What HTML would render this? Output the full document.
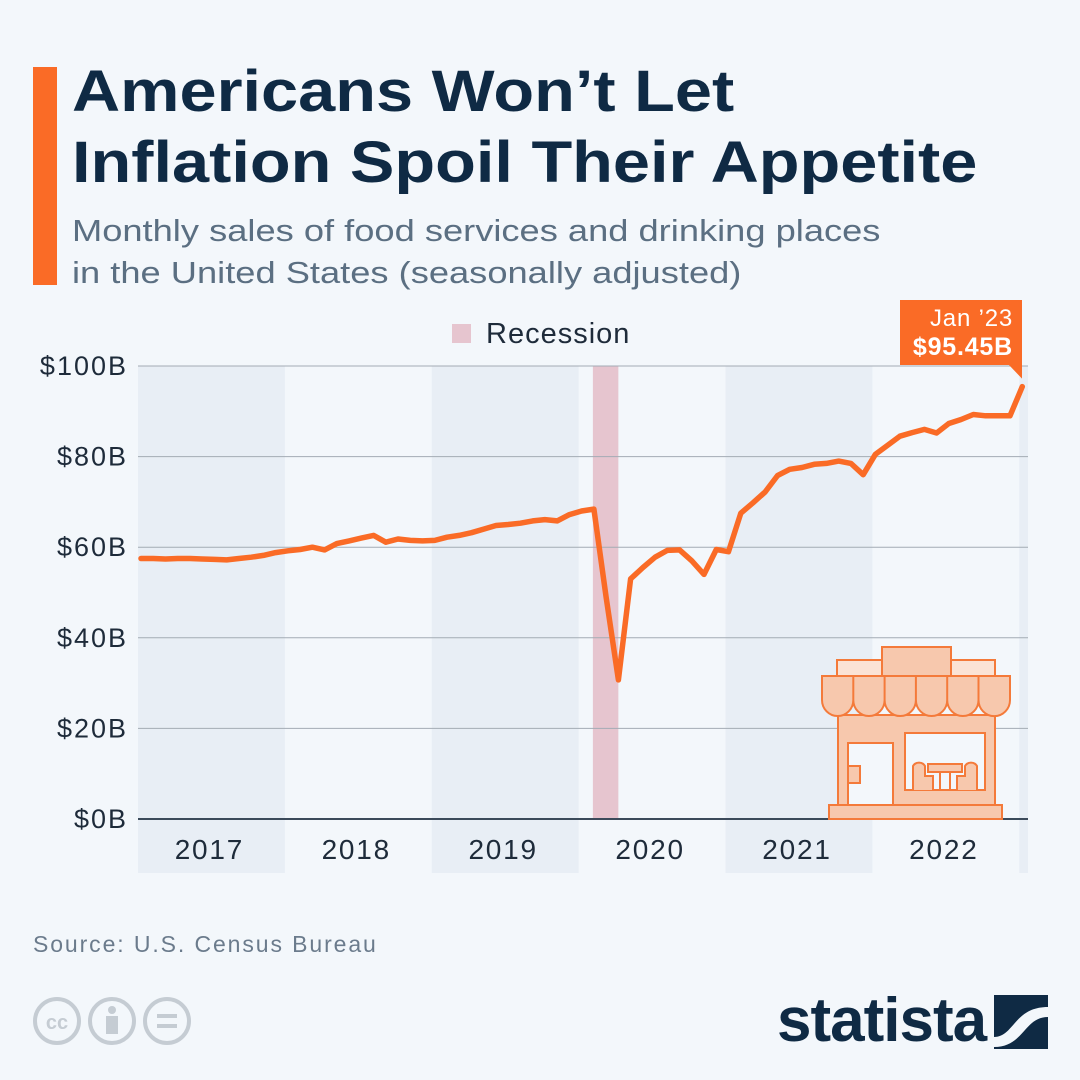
<!DOCTYPE html>
<html><head><meta charset="utf-8">
<style>
body{margin:0;background:#f3f7fb;}
#root{position:relative;width:1080px;height:1080px;background:#f3f7fb;font-family:"Liberation Sans","DejaVu Sans",sans-serif;overflow:hidden;}
.t{position:absolute;white-space:nowrap;}
</style></head><body>
<div id="root">
<div class="t" style="left:33px;top:67px;width:24px;height:218px;background:#fa6b26"></div>
<div class="t" style="left:72px;top:56px;font-size:58px;font-weight:bold;line-height:71px;color:#0f2a44;transform:scaleX(1.15);transform-origin:0 0">Americans Won’t Let<br>Inflation Spoil Their Appetite</div>
<div class="t" style="left:72px;top:210px;font-size:31px;line-height:42px;color:#5b6f82;transform:scaleX(1.17);transform-origin:0 0">Monthly sales of food services and drinking places<br>in the United States (seasonally adjusted)</div>
<svg id="chart" width="1080" height="1080" style="position:absolute;left:0;top:0"></svg>
<div class="t" style="left:33px;top:931px;font-size:23px;color:#6b7b8c;letter-spacing:1.9px">Source: U.S. Census Bureau</div>
<svg class="t" style="left:30px;top:995px" width="190" height="52">
<g fill="none" stroke="#c5ccd3" stroke-width="4"><circle cx="27" cy="26" r="22"/><circle cx="82" cy="26" r="22"/><circle cx="137" cy="26" r="22"/></g>
<text x="27" y="34" text-anchor="middle" font-size="20" font-weight="bold" fill="#c5ccd3" font-family="Liberation Sans">cc</text>
<circle cx="82" cy="15" r="4" fill="#c5ccd3"/><rect x="76" y="21" width="12" height="18" fill="#c5ccd3"/>
<rect x="127" y="19" width="20" height="4" fill="#c5ccd3"/><rect x="127" y="29" width="20" height="4" fill="#c5ccd3"/>
</svg>
<div class="t" style="left:777px;top:985px;font-size:62px;font-weight:bold;color:#0f2a44;letter-spacing:-1px">statista</div>
<svg class="t" style="left:994px;top:995px" width="54" height="54">
<rect width="54" height="54" fill="#0f2a44"/><path d="M0 42 C20 42 20 12 54 12 L54 22 C30 22 30 52 0 52Z" fill="#f3f7fb"/>
</svg>
</div>
<script>
const years=["2017","2018","2019","2020","2021","2022"];
const yTicks=[0,20,40,60,80,100];
const yTickLabels=["$0B","$20B","$40B","$60B","$80B","$100B"];
const sales=[57.5,57.5,57.4,57.5,57.5,57.4,57.3,57.2,57.5,57.8,58.2,58.8,
59.2,59.5,60.0,59.4,60.8,61.4,62.0,62.6,61.1,61.8,61.5,61.4,
61.5,62.2,62.6,63.2,64.0,64.8,65.0,65.3,65.8,66.1,65.8,67.2,
68.0,68.4,49.0,30.7,53.0,55.5,57.8,59.3,59.4,57.0,54.0,59.5,
59.0,67.5,69.8,72.2,75.8,77.2,77.6,78.3,78.5,79.0,78.5,76.0,
80.5,82.5,84.5,85.3,86.0,85.2,87.3,88.2,89.3,89.0,89.0,89.0,95.45];
const recession=[37,39];
const NS="http://www.w3.org/2000/svg";
const svg=document.getElementById('chart');
const x0=138,x1=1028,yTop=366,yBot=819,m0=141,mStep=12.24;
const xm=i=>m0+i*mStep;
const yv=v=>yBot-(v/100)*(yBot-yTop);
function el(t,a,p){const e=document.createElementNS(NS,t);for(const k in a)e.setAttribute(k,a[k]);(p||svg).appendChild(e);return e;}
for(let y=0;y<=years.length;y++){
  const xa=Math.max(x0,xm(y*12)-3),xb=Math.min(x1,xm(y*12+12)-3);
  if(y%2===0){const r=el('rect',{x:xa,y:yTop,width:xb-xa,height:873-yTop,fill:'#e8eef5'});
  
  }
  if(y<years.length){const t=el('text',{x:(xm(y*12)+xm(y*12+12))/2-5,y:859,'text-anchor':'middle','font-size':28,fill:'#1e2b3a','letter-spacing':1.8});t.textContent=years[y];
  
  }
}
const rb=el('rect',{x:xm(recession[0])-1,y:yTop,width:xm(recession[1])-xm(recession[0])+1,height:yBot-yTop,fill:'#e6c5cf'});


yTicks.forEach((v,i)=>{
  const g=el('line',{x1:x0,x2:x1,y1:yv(v),y2:yv(v),stroke:v===0?'#3b4a5a':'#a3abb4','stroke-width':v===0?2:1});
  
  
  const t=el('text',{x:128,y:yv(v)+9,'text-anchor':'end','font-size':27,fill:'#1e2b3a','letter-spacing':2});t.textContent=yTickLabels[i];
  
  
});
const ls=el('rect',{x:452,y:324,width:19,height:19,fill:'#e6c5cf'});


const lt=el('text',{x:486,y:343,'font-size':29,fill:'#1e2b3a','letter-spacing':1});lt.textContent='Recession';


const st=el('g',{fill:'#f7c8ad',stroke:'#f47a3a','stroke-width':2});


el('rect',{x:837,y:660,width:158,height:16,fill:'#fbe3d5'},st);
el('rect',{x:882,y:647,width:69,height:29},st);
el('rect',{x:838,y:715,width:157,height:92},st);
let aw='M822 676 L1010 676 L1010 700';for(let k=5;k>=0;k--){const a=822+k*31.3;aw+=` A15.6 16 0 0 1 ${a} 700`;}aw+='Z';
el('path',{d:aw},st);
for(let k=1;k<6;k++)el('line',{x1:822+k*31.3,y1:676,x2:822+k*31.3,y2:700},st);
el('rect',{x:848,y:743,width:45,height:63,fill:'#f3f7fb'},st);
el('rect',{x:848,y:766,width:12,height:17},st);
el('rect',{x:905,y:733,width:80,height:57,fill:'#f3f7fb'},st);
el('path',{d:'M913 790 V766 A7 7 0 0 1 925 766 V776 H933 V790 M977 790 V766 A7 7 0 0 0 965 766 V776 H957 V790 M928 764 H962 V772 H928Z M940 772 V790 M950 772 V790'},st);
el('rect',{x:829,y:805,width:173,height:14},st);
let d='';sales.forEach((v,i)=>{d+=(i?'L':'M')+xm(i).toFixed(1)+' '+yv(v).toFixed(1)+' ';});
const ln=el('path',{d:d,fill:'none',stroke:'#fa6b26','stroke-width':5.5,'stroke-linejoin':'round','stroke-linecap':'round'});


const lx=xm(sales.length-1),ly=yv(sales[sales.length-1]);
const cg=el('g',{});


el('rect',{x:900,y:300,width:122,height:65,fill:'#fa6b26'},cg);
el('path',{d:`M1008 364 L1022 364 L1022 ${ly-8}Z`,fill:'#fa6b26'},cg);
const c1=el('text',{x:1013,y:326,'text-anchor':'end','font-size':24,fill:'#fff','letter-spacing':0.8},cg);c1.textContent='Jan ’23';
const c2=el('text',{x:1013,y:355,'text-anchor':'end','font-size':25,'font-weight':'bold',fill:'#fff','letter-spacing':0.8},cg);c2.textContent='$'+sales[sales.length-1].toFixed(2)+'B';
</script>
</body></html>
